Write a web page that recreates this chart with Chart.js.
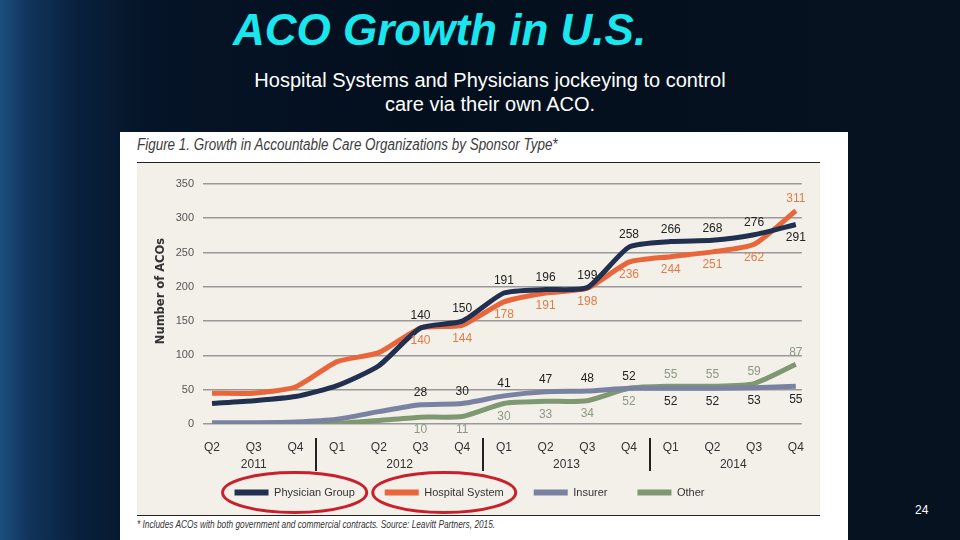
<!DOCTYPE html>
<html>
<head>
<meta charset="utf-8">
<script src="https://cdn.jsdelivr.net/npm/chart.js@4.4.0/dist/chart.umd.min.js"></script>
<style>
  body {
    margin: 0;
    width: 960px;
    height: 540px;
    overflow: hidden;
    position: relative;
    font-family: "Liberation Sans", Arial, sans-serif;
    background: linear-gradient(90deg, #1d4f80 0px, #10335a 30px, #08203c 80px, #051427 150px, #040f1e 400px, #06121f 100%);
  }
  #titulo {
    position: absolute;
    left: 233px;
    top: 5px;
    font: italic bold 44px "Liberation Sans", Arial, sans-serif;
    color: #1ae6ee;
    white-space: nowrap;
  }
  #subtitulo {
    position: absolute;
    left: 190px;
    width: 600px;
    top: 68px;
    text-align: center;
    font-size: 20px;
    line-height: 24px;
    color: #fff;
  }
  #figura {
    position: absolute;
    left: 120px;
    top: 132px;
    width: 728px;
    height: 408px;
    background: #fff;
  }
  #figTitulo {
    position: absolute;
    left: 17px;
    top: 4px;
    font: italic 16px "Liberation Sans", Arial, sans-serif;
    color: #3c3c3c;
    white-space: nowrap;
    transform: scaleX(0.84);
    transform-origin: left top;
  }
  #fundo {
    position: absolute;
    left: 17px;
    top: 30px;
    width: 683px;
    height: 352px;
    background: #f3f0ea;
    border-top: 1.5px solid #222;
    border-bottom: 1.5px solid #222;
  }
  #grafico {
    position: absolute;
    left: 0;
    top: 0;
    width: 683px;
    height: 351px;
  }
  #rodape {
    position: absolute;
    left: 17px;
    top: 387px;
    font: italic 10px "Liberation Sans", Arial, sans-serif;
    color: #333;
    white-space: nowrap;
    transform: scaleX(0.83);
    transform-origin: left top;
  }
  #pagina {
    position: absolute;
    left: 915px;
    top: 503px;
    font-size: 12px;
    color: #fff;
  }
</style>
</head>
<body>
<div id="titulo">ACO Growth in U.S.</div>
<div id="subtitulo">Hospital Systems and Physicians jockeying to control<br>care via their own ACO.</div>
<div id="figura">
  <div id="figTitulo">Figure 1. Growth in Accountable Care Organizations by Sponsor Type*</div>
  <div id="fundo">
    <div id="grafico"><canvas id="chartAcos"></canvas></div>
  </div>
  <div id="rodape">* Includes ACOs with both government and commercial contracts. Source: Leavitt Partners, 2015.</div>
</div>
<div id="pagina">24</div>

<script>
const trimestres = ['Q2', 'Q3', 'Q4', 'Q1', 'Q2', 'Q3', 'Q4', 'Q1', 'Q2', 'Q3', 'Q4', 'Q1', 'Q2', 'Q3', 'Q4']
const anos = ['2011', '2012', '2013', '2014']
const posicaoAnos = [1, 4.5, 8.5, 12.5]
const divisoes = [2.5, 6.5, 10.5]

const medicos = [30, 34, 40, 56, 85, 140, 150, 191, 196, 199, 258, 266, 268, 276, 291]
const hospitais = [45, 45, 54, 91, 104, 140, 144, 178, 191, 198, 236, 244, 251, 262, 311]
const seguradoras = [2, 2, 3, 7, 18, 28, 30, 41, 47, 48, 52, 52, 52, 53, 55]
const outros = [0, 0, 0, 1, 5, 10, 11, 30, 33, 34, 52, 55, 55, 59, 87]

// onde fica o rotulo de cada ponto: 'a' acima, 'b' abaixo, 0 sem rotulo
const rotMedicos = [0, 0, 0, 0, 0, 'a', 'a', 'a', 'a', 'a', 'a', 'a', 'a', 'a', 'b']
const rotHospitais = [0, 0, 0, 0, 0, 'b', 'b', 'b', 'b', 'b', 'b', 'b', 'b', 'b', 'a']
const rotSeguradoras = [0, 0, 0, 0, 0, 'a', 'a', 'a', 'a', 'a', 'a', 'b', 'b', 'b', 'b']
const rotOutros = [0, 0, 0, 0, 0, 'b', 'b', 'b', 'b', 'b', 'b', 'a', 'a', 'a', 'a']

const fonte = '"Liberation Sans", Arial, sans-serif'

function serie(label, valores, cor, corRotulo, rotulos) {
  return {
    label: label,
    data: valores.map((v, i) => ({ x: i, y: v })),
    borderColor: cor,
    backgroundColor: cor,
    borderWidth: 5,
    pointRadius: 0,
    tension: 0.2,
    corRotulo: corRotulo,
    rotulos: rotulos
  }
}

const pluginExtras = {
  id: 'extras',
  afterDatasetsDraw(chart) {
    const ctx = chart.ctx
    const x = chart.scales.x
    const area = chart.chartArea
    ctx.save()
    // rotulos dos valores
    ctx.font = '12px ' + fonte
    ctx.textAlign = 'center'
    ctx.textBaseline = 'middle'
    chart.data.datasets.forEach((ds, d) => {
      const meta = chart.getDatasetMeta(d)
      meta.data.forEach((pt, i) => {
        const pos = ds.rotulos[i]
        if (!pos) return
        ctx.fillStyle = ds.corRotulo
        ctx.fillText(ds.data[i].y, pt.x, pos === 'a' ? pt.y - 12 : pt.y + 13)
      })
    })
    // anos e divisoes
    ctx.fillStyle = '#333'
    anos.forEach((a, i) => {
      ctx.fillText(a, x.getPixelForValue(posicaoAnos[i]), area.bottom + 41)
    })
    ctx.strokeStyle = '#222'
    ctx.lineWidth = 2
    divisoes.forEach(v => {
      const px = Math.round(x.getPixelForValue(v))
      ctx.beginPath()
      ctx.moveTo(px, area.bottom + 14)
      ctx.lineTo(px, area.bottom + 47)
      ctx.stroke()
    })
    // titulo do eixo y
    ctx.translate(24, area.top + 107)
    ctx.rotate(-Math.PI / 2)
    ctx.fillStyle = '#333'
    ctx.font = 'bold 11.5px "DejaVu Sans", sans-serif'
    ctx.fillText('Number of ACOs', 0, 0)
    ctx.restore()
  },
  afterDraw(chart) {
    // elipses vermelhas nas duas primeiras legendas
    const caixas = chart.legend.legendHitBoxes
    const ctx = chart.ctx
    ctx.save()
    ctx.strokeStyle = '#c9202c'
    ctx.lineWidth = 3
    caixas.slice(0, 2).forEach(c => {
      ctx.beginPath()
      ctx.ellipse(c.left + c.width / 2, c.top + c.height / 2, c.width / 2 + 12, 20, 0, 0, Math.PI * 2)
      ctx.stroke()
    })
    ctx.restore()
  }
}

// eslint-disable-next-line no-undef
new Chart(document.getElementById('chartAcos'), {
  type: 'line',
  data: {
    datasets: [
      serie('Physician Group', medicos, '#22304f', '#222', rotMedicos),
      serie('Hospital System', hospitais, '#e9653a', '#e07c48', rotHospitais),
      serie('Insurer', seguradoras, '#7a82a2', '#222', rotSeguradoras),
      serie('Other', outros, '#7e9872', '#8c9a84', rotOutros)
    ]
  },
  options: {
    responsive: true,
    maintainAspectRatio: false,
    animation: false,
    layout: {
      padding: { top: 21, right: 18, bottom: 6, left: 0 }
    },
    scales: {
      x: {
        type: 'linear',
        min: -0.216,
        max: 14.144,
        afterBuildTicks: (scale) => {
          scale.ticks = trimestres.map((t, i) => ({ value: i }))
        },
        afterFit: (scale) => {
          scale.height = 33
        },
        grid: { display: false, drawTicks: false },
        border: { display: false },
        ticks: {
          autoSkip: false,
          maxRotation: 0,
          padding: 16,
          color: '#333',
          font: { family: fonte, size: 12 },
          callback: (v) => trimestres[v]
        }
      },
      y: {
        min: 0,
        max: 350,
        afterFit: (scale) => {
          scale.width = 66
        },
        grid: { color: '#999', lineWidth: 1.6, drawTicks: false },
        border: { display: false },
        ticks: {
          stepSize: 50,
          padding: 9,
          color: '#555',
          font: { family: fonte, size: 11 }
        }
      }
    },
    plugins: {
      tooltip: { enabled: false },
      legend: {
        position: 'bottom',
        labels: {
          boxWidth: 34,
          boxHeight: 6,
          padding: 30,
          color: '#333',
          font: { family: fonte, size: 11 },
          generateLabels: (chart) => Chart.defaults.plugins.legend.labels.generateLabels(chart).map(l => ({ ...l, lineWidth: 0 }))
        }
      }
    }
  },
  plugins: [pluginExtras]
})
</script>
</body>
</html>
